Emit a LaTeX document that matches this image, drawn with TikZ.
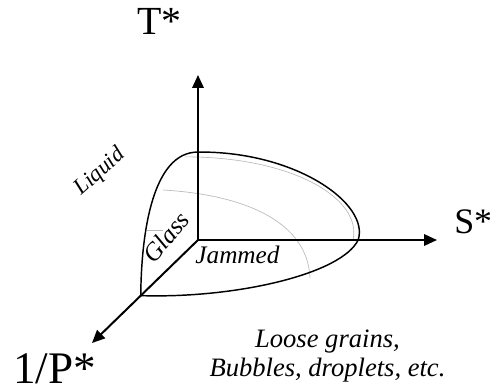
\documentclass[tikz,border=0pt]{standalone}
\usepackage{fontspec}
\setmainfont{Liberation Serif}
\usetikzlibrary{arrows.meta,calc}

\tikzset{
  axis/.style={line width=1.5pt,-{Triangle[length=3.4mm,width=3mm]}},
  surf/.style={line width=1.1pt},
  faint/.style={line width=.5pt,gray!55},
  axlabel/.style={font=\fontsize{27}{32}\selectfont,inner sep=0pt,anchor=base west},
  region/.style={font=\fontsize{19}{22}\selectfont\itshape}
}

\begin{document}
\begin{tikzpicture}
\useasboundingbox (-5.2385,-3.9952) rectangle (7.8317,6.3500);
% axes
\coordinate (O) at (0,0);
\coordinate (Ttip) at (0.0000,4.3656);
\coordinate (Stip) at (6.3235,0.0000);
\coordinate (Ptip) at (-2.8046,-2.7252);
% corners of the surface on the axes
\coordinate (cT) at ($(O)!0.533!(Ttip)$);
\coordinate (cS) at ($(O)!0.67!(Stip)$);
\coordinate (cP) at ($(O)!0.54!(Ptip)$);
% faint lines inside
\draw[faint] (-0.3400,2.2000) .. controls (2.5000,2.2000) and (4.3500,1.1000) .. (4.1000,0.0000);
\draw[faint] (-0.9260,1.3230) .. controls (1.2000,1.2000) and (2.9000,0.5000) .. (2.9630,-1.0000);
\draw[faint] (-1.3600,0.2650) -- (-0.9260,0.2650);
% outline of the surface
\draw[surf] (cP) .. controls (-1.5000,0.2000) and (-1.2000,2.3300) .. (cT);
\draw[surf] (cT) .. controls (2.6000,2.3500) and (4.5500,0.9500) .. (cS);
\draw[surf] (cS) .. controls (3.8000,-0.9000) and (1.0000,-1.5500) .. (cP);
\draw[axis] (O) -- (Ttip);
\draw[axis] (O) -- (Stip);
\draw[axis] (O) -- (Ptip);
\node[axlabel,font=\fontsize{30}{34}\selectfont] (Tlab) at (-1.6140,5.4240) {T*};
\node[axlabel] (Slab) at (6.7740,0.1850) {S*};
\node[axlabel,font=\fontsize{34}{38}\selectfont] (Plab) at (-4.8950,-3.7840) {1/P*};
\node[region,font=\fontsize{17}{20}\selectfont\itshape,rotate=42] (liquid) at (-2.5929,1.7992) {Liquid};
\node[region,rotate=50] (glass) at (-0.8470,0.0800) {Glass};
\node[region,anchor=base] (jammed) at (1.0450,-0.6090) {Jammed};
\node[region,align=center,font=\fontsize{20}{22}\selectfont\itshape] (loose) at (3.4260,-3.0690) {Loose grains,\\Bubbles, droplets, etc.};
\end{tikzpicture}
\end{document}
